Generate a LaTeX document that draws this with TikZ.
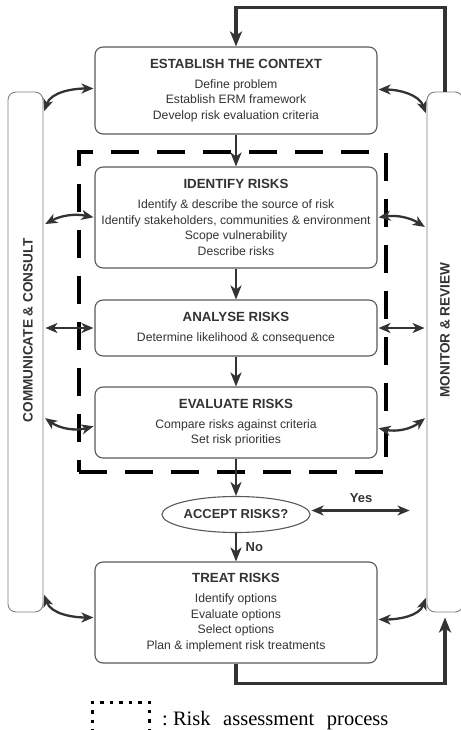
\documentclass[tikz,border=0pt]{standalone}
\usepackage{fontspec}
\setmainfont{Liberation Serif}
\setsansfont{Liberation Sans}
\usepackage{tikz}
\usetikzlibrary{arrows.meta,positioning,shapes.geometric}
\definecolor{box-gray}{gray}{0.35}
\definecolor{bar-gray}{gray}{0.5}
\definecolor{ink}{gray}{0.2}
\newcommand{\stagetitle}[1]{{\fontsize{13.3}{16}\selectfont\bfseries #1}\\[4.5pt]}

\tikzset{
	stage/.style={draw=box-gray, line width=1.1pt, rounded corners=8pt, minimum width=282pt, inner sep=0pt, align=center, text=ink, font=\sffamily\fontsize{12.2}{15.5}\selectfont},
	sidebar/.style={draw=bar-gray, line width=0.9pt, rounded corners=8pt, minimum height=520pt},
	sidelabel/.style={text=ink, font=\sffamily\bfseries\fontsize{13.6}{16}\selectfont},
	flow/.style={draw=ink, line width=2.6pt, -{Stealth[length=14pt, width=11pt, inset=4pt]}},
	twoway/.style={draw=ink, line width=2.3pt, {Stealth[length=12pt, width=10pt, inset=3.5pt]}-{Stealth[length=12pt, width=10pt, inset=3.5pt]}, shorten <=1pt, shorten >=2pt},
	loopline/.style={draw=ink, line width=3.4pt, -{Stealth[length=15pt, width=12pt, inset=4pt]}},
	answer/.style={text=ink, font=\sffamily\bfseries\fontsize{13}{15}\selectfont}
}

\begin{document}
\begin{tikzpicture}[x=1pt, y=-1pt]
	\useasboundingbox (0,0) rectangle (460,730);
	
	\node (com) at (25.5,352) [sidebar, minimum width=35pt] {};
	\node (mon) at (445,352) [sidebar, minimum width=36pt] {};
	\node (comtxt) at (28,330) [rotate=90, sidelabel] {COMMUNICATE \& CONSULT};
	\node (montxt) at (445,330) [rotate=90, sidelabel] {MONITOR \& REVIEW};
	
	\node (est) at (236,90.5) [stage, minimum height=87pt] {\stagetitle{ESTABLISH THE CONTEXT}Define problem\\Establish ERM framework\\Develop risk evaluation criteria};
	\node (idf) at (236,217.5) [stage, minimum height=101pt] {\stagetitle{IDENTIFY RISKS}Identify \& describe the source of risk\\Identify stakeholders, communities \& environment\\Scope vulnerability\\Describe risks};
	\node (ana) at (236,328) [stage, minimum height=56pt] {\stagetitle{ANALYSE RISKS}Determine likelihood \& consequence};
	\node (eva) at (236,422.5) [stage, minimum height=71pt] {\stagetitle{EVALUATE RISKS}Compare risks against criteria\\Set risk priorities};
	\node (acc) at (236,514.5) [ellipse, draw=box-gray, line width=1.1pt, minimum width=134pt, minimum height=36pt, inner sep=0pt, answer] {ACCEPT RISKS?};
	\node (trt) at (236,612.5) [stage, minimum height=101pt] {\stagetitle{TREAT RISKS}Identify options\\Evaluate options\\Select options\\Plan \& implement risk treatments};
	
	\node (asmt) at (232.5,312) [draw, line width=3.6pt, dash pattern=on 28pt off 18pt, minimum width=307pt, minimum height=320pt] {};
	
	\draw[flow] (est) -- (idf);
	\draw[flow] (idf) -- (ana);
	\draw[flow] (ana) -- (eva);
	\draw[flow] (eva) -- (acc);
	\draw[flow] (acc) -- (trt) node[midway, right=5pt, answer] {No};
	\draw[twoway] ([yshift=4pt]acc.east) -- ([xshift=-15pt, yshift=4pt]acc.east -| mon.west) node[pos=0.5, above=3pt, answer] {Yes};
	
	\draw[loopline] (mon.north) -- ++(0,-84) -| (est.north);
	\draw[loopline] (trt.south) -- ++(0,20) -| ([yshift=-5pt]mon.south);
	
	% communicate side
	\draw[twoway] ([yshift=2pt]est.west) to[out=180, in=70] ([yshift=-22.5pt]est.west -| com.east);
	\draw[twoway] (idf.west) to[bend right=20] ([yshift=-7.5pt]idf.west -| com.east);
	\draw[twoway] (ana.west) -- (ana.west -| com.east);
	\draw[twoway] ([yshift=-3.5pt]eva.west) to[bend left=25] ([yshift=5.5pt]eva.west -| com.east);
	\draw[twoway] ([yshift=-5pt]trt.west) to[out=180, in=-70] ([yshift=19.5pt]trt.west -| com.east);
	
	% monitor side
	\draw[twoway] ([yshift=1pt]est.east) to[out=0, in=110] ([yshift=-24.5pt]est.east -| mon.west);
	\draw[twoway] (idf.east) to[bend left=20] ([yshift=-10.5pt]idf.east -| mon.west);
	\draw[twoway] (ana.east) -- (ana.east -| mon.west);
	\draw[twoway] ([yshift=-5.5pt]eva.east) to[bend right=25] ([yshift=5.5pt]eva.east -| mon.west);
	\draw[twoway] ([yshift=-7pt]trt.east) to[out=0, in=-110] ([yshift=16.5pt]trt.east -| mon.west);
	
	% legend
	\node (key) at (121,717) [draw, line width=3pt, dash pattern=on 3.5pt off 6pt, minimum width=57pt, minimum height=30pt] {};
	\node (keytxt) at (162,725) [anchor=base west, inner sep=0pt, font=\rmfamily\fontsize{20.5}{24}\selectfont] {:\ Risk\hspace{7.5pt} assessment\hspace{7.5pt} process};
	
\end{tikzpicture}
\end{document}
